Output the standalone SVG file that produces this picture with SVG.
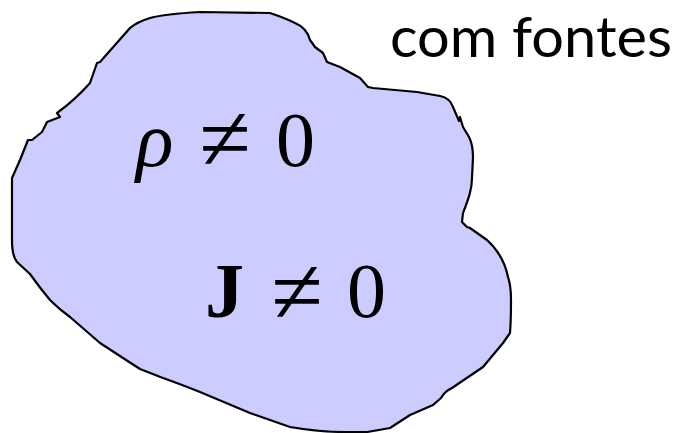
<svg xmlns="http://www.w3.org/2000/svg" width="679" height="433" viewBox="0 0 679 433">
<style>
.blob{fill:#ccccff;stroke:#000;stroke-width:2.2;stroke-linejoin:round;stroke-linecap:round}
.m{font-family:"Liberation Serif","DejaVu Serif",serif;font-size:78px;fill:#000}
.ne{font-family:"Liberation Serif","DejaVu Serif",serif;font-size:94px;fill:#000;text-anchor:middle}
.lbl{font-family:Lato,"Open Sans",sans-serif;font-size:57px;fill:#000}
</style>
<rect width="679" height="433" fill="#fff"/>
<g id="region">
<path class="blob" d="M 12,178 L 12,240 Q 12,256 17,262 L 30,274 Q 40,288 50,300 Q 60,310 70,317 Q 85,330 100,343 L 123,358 L 140,369 L 163,378 Q 180,384 200,392 L 250,413 L 290,427 Q 320,432 345,432 L 367,432 L 390,428 L 410,415 L 433,405 L 441,398 Q 445,391 452,388 L 483,367 L 503,343 L 510,333 Q 511,320 511,300 C 511,285 509,280 508,277 C 505,262 498,250 487,240 L 470,228 L 467,227 L 462,222 L 463,213 C 468,200 472,190 472,178 L 473,157 Q 473,145 469,137 L 463,127 L 460,117 L 459,121 L 453,107 Q 450,98 440,96 L 417,92 L 373,88 L 368,87 L 360,78 L 340,67 L 327,62 L 323,53 L 315,47 L 310,40 Q 307,28 295,23 Q 285,18 270,13 L 200,12 Q 165,14 150,18 Q 137,22 130,28 L 100,62 L 97,63 L 90,83 Q 75,100 57,113 L 60,117 L 47,122 L 42,132 L 32,140 L 28,140 L 20,160 Z"/>
</g>
<g id="rho-line">
<text class="m" x="136" y="166" font-style="italic">ρ</text>
<text class="ne" x="225" y="170">≠</text>
<text class="m" x="276" y="166">0</text>
</g>
<g id="j-line">
<text class="m" x="205" y="317" font-weight="bold">J</text>
<text class="ne" x="297" y="323">≠</text>
<text class="m" x="347" y="317">0</text>
</g>
<g id="caption">
<text class="lbl" x="390" y="57" textLength="282" lengthAdjust="spacingAndGlyphs">com fontes</text>
</g>
</svg>
